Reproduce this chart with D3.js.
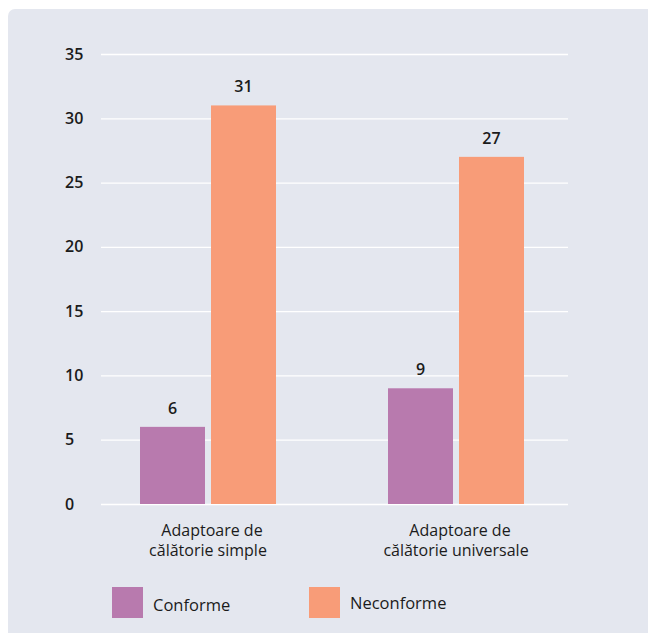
<!DOCTYPE html>
<html>
<head>
<meta charset="utf-8">
<script src="https://cdn.jsdelivr.net/npm/d3@7"></script>
<style>
  body { margin: 0; background: #fff; }
  text { font-family: "Open Sans", sans-serif; fill: #1b1b1b; }
</style>
</head>
<body>
<script>
// data
var categories = ["Adaptoare de|călătorie simple", "Adaptoare de|călătorie universale"];
var seriesNames = ["Conforme", "Neconforme"];
var conforme = [6, 9];
var neconforme = [31, 27];
var yTicks = [0, 5, 10, 15, 20, 25, 30, 35];
var colors = ["#b87aae", "#f89c78"];

var width = 648, height = 633;

var svg = d3.select("body").append("svg")
  .attr("width", width)
  .attr("height", height);

// grey panel
svg.append("rect")
  .attr("x", 8).attr("y", 9)
  .attr("width", 660).attr("height", 640)
  .attr("rx", 7)
  .attr("fill", "#e4e7ef");

var y = d3.scaleLinear().domain([0, 35]).range([504, 54]);

var x0 = d3.scaleBand()
  .domain(categories)
  .range([84, 580])
  .paddingInner(0.4516)
  .paddingOuter(0.2258);

// 65px bars with a 6px gap
var x1 = d3.scaleBand()
  .domain(seriesNames)
  .range([0, x0.bandwidth()])
  .paddingInner(0.0845);

// gridlines
var yAxis = d3.axisLeft(y)
  .tickValues(yTicks)
  .tickSize(-467)
  .tickPadding(13);

var gy = svg.append("g")
  .attr("transform", "translate(101,0)")
  .call(yAxis);
gy.select(".domain").remove();
gy.selectAll(".tick line").attr("stroke", "#fff").attr("stroke-width", 1.3);
gy.selectAll(".tick text")
  .attr("text-anchor", "start")
  .attr("x", -36)
  .style("font-size", "16px")
  .style("font-weight", 600);

var rows = categories.map(function(c, i) {
  return { cat: c, values: [conforme[i], neconforme[i]] };
});

var groups = svg.selectAll("g.grp")
  .data(rows)
  .enter()
  .append("g")
  .attr("class", "grp")
  .attr("transform", function(d) { return "translate(" + x0(d.cat) + ",0)"; });

groups.selectAll("rect")
  .data(function(d) { return d.values.map(function(v, j) { return { s: seriesNames[j], v: v, j: j }; }); })
  .enter()
  .append("rect")
  .attr("x", function(d) { return x1(d.s); })
  .attr("y", function(d) { return y(d.v); })
  .attr("width", x1.bandwidth())
  .attr("height", function(d) { return y(0) - y(d.v); })
  .attr("fill", function(d) { return colors[d.j]; });

// value labels
groups.selectAll("text.val")
  .data(function(d) { return d.values.map(function(v, j) { return { s: seriesNames[j], v: v }; }); })
  .enter()
  .append("text")
  .attr("class", "val")
  .attr("x", function(d) { return x1(d.s) + x1.bandwidth() / 2; })
  .attr("y", function(d) { return y(d.v) - 13; })
  .attr("text-anchor", "middle")
  .style("font-size", "16px")
  .style("font-weight", 600)
  .text(function(d) { return d.v; });

// category labels
groups.each(function(d) {
  var t = d3.select(this).append("text")
    .attr("text-anchor", "middle")
    .style("font-size", "16px");
  d.cat.split("|").forEach(function(line, k) {
    t.append("tspan")
      .attr("x", x0.bandwidth() / 2 + (k === 0 ? 4 : 0))
      .attr("y", 535.5 + k * 20)
      .text(line);
  });
});

// legend
var legendX = [112, 309];
var legend = svg.selectAll("g.leg")
  .data(seriesNames)
  .enter()
  .append("g")
  .attr("class", "leg")
  .attr("transform", function(d, i) { return "translate(" + legendX[i] + ",587)"; });

legend.append("rect")
  .attr("width", 31).attr("height", 31)
  .attr("fill", function(d, i) { return colors[i]; });

legend.append("text")
  .attr("x", 41)
  .attr("y", function(d, i) { return i === 0 ? 24 : 22; })
  .style("font-size", "16.5px")
  .text(function(d) { return d; });
</script>
</body>
</html>
